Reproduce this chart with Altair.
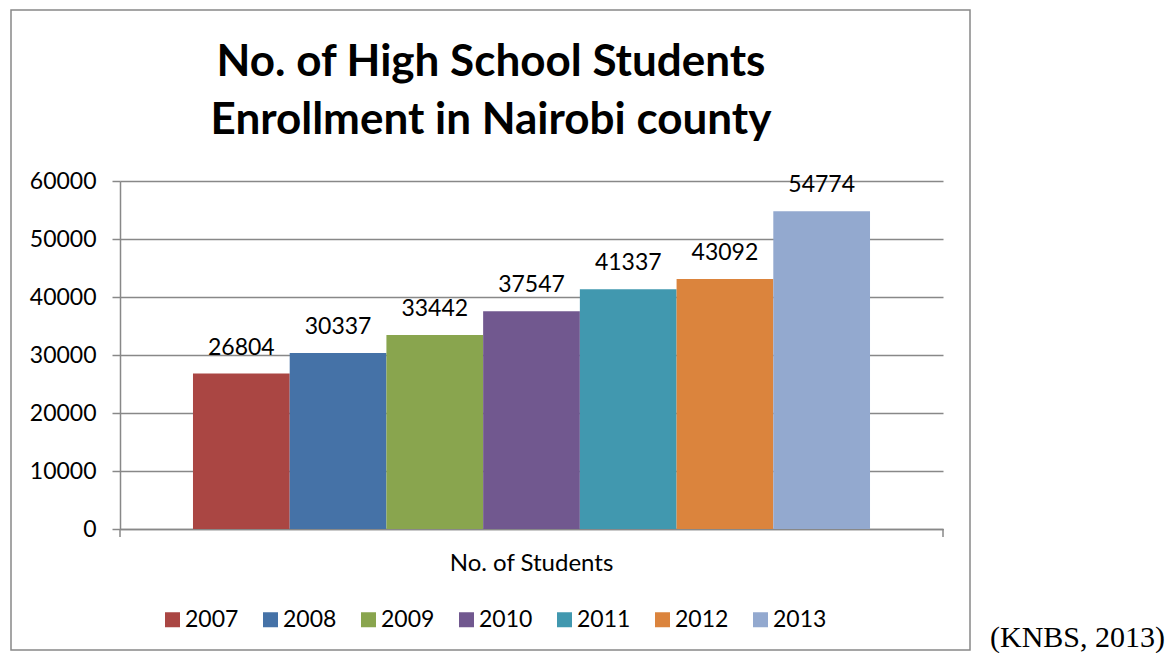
import altair as alt
import pandas as pd

years = ["2007", "2008", "2009", "2010", "2011", "2012", "2013"]
students = [26804, 30337, 33442, 37547, 41337, 43092, 54774]
category = "No. of Students"
colors = ["#AA4643", "#4572A7", "#89A54E", "#71588F", "#4198AF", "#DB843D", "#93A9CF"]
y_ticks = [0, 10000, 20000, 30000, 40000, 50000, 60000]
title_lines = ["No. of High School Students", "Enrollment in Nairobi county"]
source_note = "(KNBS, 2013)"

df = pd.DataFrame({"cat": [category] * len(years), "year": years, "students": students})
one = pd.DataFrame({"k": [0]})

W, H = 823, 348
FONT = "Lato"
GRAY = "#888888"
FS = 23

x = alt.X("cat:N", title=None,
          scale=alt.Scale(paddingOuter=0.1078, paddingInner=0),
          axis=alt.Axis(labelFontSize=24, labelColor="black", labelFont=FONT, ticks=False,
                        domainColor=GRAY, domainWidth=1.5, labelPadding=22, labelAngle=0))
xo = alt.XOffset("year:N", sort=years, scale=alt.Scale(paddingInner=0, paddingOuter=0))
y = alt.Y("students:Q", title=None,
          scale=alt.Scale(domain=[0, 60000], nice=False),
          axis=alt.Axis(values=y_ticks, format="d", labelFontSize=FS, labelFont=FONT,
                        labelColor="black", gridColor=GRAY, gridWidth=1.5, domainColor=GRAY,
                        domainWidth=1.5, tickColor=GRAY, tickWidth=1.5, tickSize=8,
                        labelPadding=16))

bars = alt.Chart(df).mark_bar().encode(
    x=x, xOffset=xo, y=y,
    color=alt.Color("year:N", sort=years,
                    scale=alt.Scale(domain=years, range=colors),
                    legend=alt.Legend(title=None, orient="none", legendX=41, legendY=427,
                                      direction="horizontal", columns=7, symbolType="square",
                                      symbolSize=225, symbolStrokeWidth=0, labelFontSize=FS,
                                      labelFont=FONT, labelColor="black", labelOffset=1,
                                      columnPadding=20, gridAlign="all")),
)

labels = alt.Chart(df).mark_text(fontSize=FS, font=FONT, dy=-26, baseline="middle",
                                 color="black").encode(
    x=x, xOffset=xo, y=y, text=alt.Text("students:Q", format="d"))

tick_l = alt.Chart(one).mark_rule(color=GRAY, strokeWidth=1.5).encode(
    x=alt.value(0), y=alt.value(H), y2=alt.value(H + 8))
tick_r = alt.Chart(one).mark_rule(color=GRAY, strokeWidth=1.5).encode(
    x=alt.value(W), y=alt.value(H), y2=alt.value(H + 8))

border = alt.Chart(one).mark_rect(fillOpacity=0, stroke=GRAY, strokeWidth=1.5).encode(
    x=alt.value(-109), x2=alt.value(850), y=alt.value(-171), y2=alt.value(469))

title1 = alt.Chart(one).mark_text(font=FONT, fontSize=44, fontWeight="bold", color="black",
                                  align="center", baseline="middle").encode(
    x=alt.value(371), y=alt.value(-118), text=alt.value(title_lines[0]))
title2 = alt.Chart(one).mark_text(font=FONT, fontSize=44, fontWeight="bold", color="black",
                                  align="center", baseline="middle").encode(
    x=alt.value(371), y=alt.value(-60), text=alt.value(title_lines[1]))

note = alt.Chart(one).mark_text(font="Liberation Serif", fontSize=30, align="right",
                                baseline="alphabetic", color="black").encode(
    x=alt.value(1045), y=alt.value(466), text=alt.value(source_note))

chart = alt.layer(border, title1, title2, bars, labels, tick_l, tick_r, note).properties(
    width=W, height=H,
    padding={"left": 2, "top": 1, "right": 0, "bottom": 0},
).configure_view(stroke=None)

chart.save("out.html", embed_options={"renderer": "svg", "actions": False})
